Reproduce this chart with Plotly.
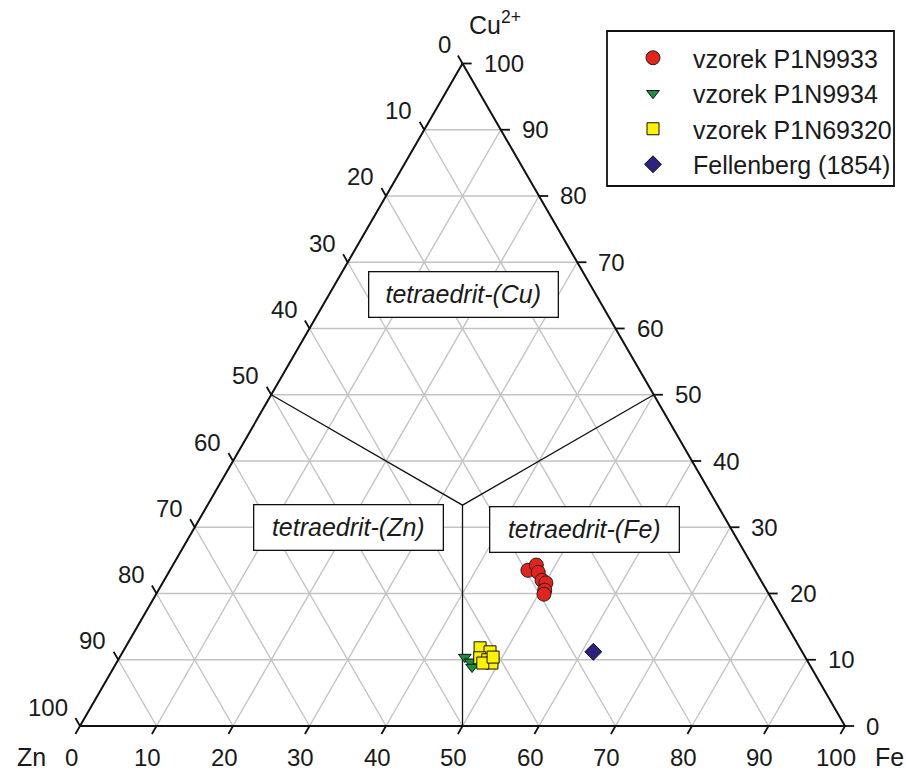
import math
import plotly.graph_objects as go

# ---------------- data (percent, Cu2+ / Zn / Fe) ----------------
p9933_cu = [23.5, 24.3, 23.2, 22.0, 21.6, 20.5, 19.9]
p9933_fe = [46.8, 47.5, 48.3, 49.4, 50.1, 50.5, 50.7]
p9933_zn = [29.7, 28.2, 28.5, 28.6, 28.3, 29.0, 29.4]

p9934_cu = [10.4, 9.7, 8.9]
p9934_fe = [45.1, 46.2, 46.8]
p9934_zn = [44.5, 44.1, 44.3]

p69320_cu = [11.8, 11.2, 10.3, 10.0, 9.5, 9.5, 10.4]
p69320_fe = [46.4, 48.0, 47.1, 48.3, 49.1, 47.9, 48.8]
p69320_zn = [41.8, 40.8, 42.6, 41.7, 41.4, 42.6, 40.8]

fell_cu = [11.2]
fell_fe = [61.5]
fell_zn = [27.3]

tick_values = [0, 10, 20, 30, 40, 50, 60, 70, 80, 90, 100]
series_names = ["vzorek P1N9933", "vzorek P1N9934", "vzorek P1N69320", "Fellenberg (1854)"]
field_names = ["tetraedrit-(Cu)", "tetraedrit-(Zn)", "tetraedrit-(Fe)"]

# ---------------- helpers ----------------
S3 = math.sqrt(3) / 2


def tx(cu, fe):
    return fe + cu / 2.0


def ty(cu):
    return cu * S3


def to_xy(cu_list, fe_list):
    return [tx(c, f) for c, f in zip(cu_list, fe_list)], [ty(c) for c in cu_list]


FONT = "Arial, Liberation Sans, sans-serif"
TXT = "#1a1a1a"

fig = go.Figure()

# grid lines
gx, gy = [], []
for v in tick_values[1:-1]:
    gx += [tx(v, 0), tx(v, 100 - v), None]
    gy += [ty(v), ty(v), None]
    gx += [tx(100 - v, v), tx(0, v), None]
    gy += [ty(100 - v), ty(0), None]
    gx += [tx(100 - v, 0), tx(0, 100 - v), None]
    gy += [ty(100 - v), ty(0), None]
fig.add_trace(go.Scatter(x=gx, y=gy, mode="lines", line=dict(color="#c3c3c3", width=1.4),
                         hoverinfo="skip", showlegend=False))

# field boundaries
c3 = 100 / 3.0
bx = [tx(50, 0), tx(c3, c3), tx(50, 50), None, tx(c3, c3), tx(0, 50)]
by = [ty(50), ty(c3), ty(50), None, ty(c3), ty(0)]
fig.add_trace(go.Scatter(x=bx, y=by, mode="lines", line=dict(color="#111111", width=1.3),
                         hoverinfo="skip", showlegend=False))

# ticks
L = 1.2
kx, ky = [], []
for v in tick_values:
    x0, y0 = tx(100 - v, 0), ty(100 - v)
    kx += [x0, x0 - 0.5 * L, None]
    ky += [y0, y0 + S3 * L, None]
    x0, y0 = tx(v, 100 - v), ty(v)
    kx += [x0, x0 + L, None]
    ky += [y0, y0, None]
    x0, y0 = tx(0, v), ty(0)
    kx += [x0, x0 - 0.5 * L, None]
    ky += [y0, y0 - S3 * L, None]
fig.add_trace(go.Scatter(x=kx, y=ky, mode="lines", line=dict(color="#111111", width=1.8),
                         hoverinfo="skip", showlegend=False))

# triangle outline
fig.add_trace(go.Scatter(x=[tx(0, 0), tx(0, 100), tx(100, 0), tx(0, 0)],
                         y=[ty(0), ty(0), ty(100), ty(0)], mode="lines",
                         line=dict(color="#111111", width=2), hoverinfo="skip", showlegend=False))

# data series
x, y = to_xy(p9933_cu, p9933_fe)
fig.add_trace(go.Scatter(x=x, y=y, mode="markers", name=series_names[0],
                         marker=dict(symbol="circle", size=14, color="#e2241d",
                                     line=dict(color="#2a1a1a", width=1))))
x, y = to_xy(p9934_cu, p9934_fe)
fig.add_trace(go.Scatter(x=x, y=y, mode="markers", name=series_names[1],
                         marker=dict(symbol="triangle-down", size=11, color="#17913f",
                                     line=dict(color="#111111", width=1))))
x, y = to_xy(p69320_cu, p69320_fe)
fig.add_trace(go.Scatter(x=x, y=y, mode="markers", name=series_names[2],
                         marker=dict(symbol="square", size=12, color="#fff200",
                                     line=dict(color="#111111", width=1))))
x, y = to_xy(fell_cu, fell_fe)
fig.add_trace(go.Scatter(x=x, y=y, mode="markers", name=series_names[3],
                         marker=dict(symbol="diamond", size=13, color="#2b2280",
                                     line=dict(color="#111111", width=1))))

ann = []
TF = dict(size=24, family=FONT, color=TXT)
for v in tick_values:
    ann.append(dict(x=tx(100 - v, 0), y=ty(100 - v), text=str(v), showarrow=False,
                    xanchor="right", yanchor="middle", xshift=-10, yshift=19, font=TF))
    ann.append(dict(x=tx(v, 100 - v), y=ty(v), text=str(v), showarrow=False,
                    xanchor="left", yanchor="middle", xshift=19, yshift=0, font=TF))
    ann.append(dict(x=tx(0, v), y=ty(0), text=str(v), showarrow=False,
                    xanchor="center", yanchor="middle", xshift=-9, yshift=-31, font=TF))

LF = dict(size=25, family=FONT, color=TXT)
ann.append(dict(x=tx(0, 0), y=ty(0), text="Zn", showarrow=False, xanchor="center",
                yanchor="middle", xshift=-49, yshift=-31, font=LF))
ann.append(dict(x=tx(0, 100), y=ty(0), text="Fe", showarrow=False, xanchor="center",
                yanchor="middle", xshift=44, yshift=-31, font=LF))
ann.append(dict(x=tx(100, 0), y=ty(100), text="Cu<sup>2+</sup>", showarrow=False, xanchor="left",
                yanchor="middle", xshift=4, yshift=40, font=LF))

field_pos = [(65.2, 17.5), (29.9, 20.1), (29.6, 51.1)]
for name, (cu, fe) in zip(field_names, field_pos):
    ann.append(dict(x=tx(cu, fe), y=ty(cu), text="<i>" + name + "</i>", showarrow=False,
                    xanchor="center", yanchor="middle", width=186, height=42,
                    bgcolor="white", bordercolor="#111111", borderwidth=1.3, borderpad=1,
                    font=LF))

W, H = 906, 773
px_per = 7.65
x_min = -80 / px_per
x_max = (W - 80) / px_per
y_min = -(H - 726) / px_per
y_max = 726 / px_per

fig.update_layout(
    width=W, height=H, margin=dict(l=0, r=0, t=0, b=0),
    paper_bgcolor="white", plot_bgcolor="white",
    xaxis=dict(range=[x_min, x_max], visible=False, fixedrange=True),
    yaxis=dict(range=[y_min, y_max], visible=False, fixedrange=True),
    annotations=ann,
    showlegend=True,
    legend=dict(x=613 / W, y=1 - 35 / H, xanchor="left", yanchor="top",
                bgcolor="rgba(0,0,0,0)", borderwidth=0, itemwidth=70,
                font=LF, tracegroupgap=0),
    shapes=[dict(type="rect", xref="paper", yref="paper",
                 x0=607 / W, x1=894 / W, y0=1 - 186 / H, y1=1 - 31 / H,
                 line=dict(color="#111111", width=1.8), fillcolor="rgba(0,0,0,0)")],
)

fig.write_html("out.html", config={"displayModeBar": False},
               post_script="document.body.style.margin='0px';document.body.style.overflow='hidden';")
